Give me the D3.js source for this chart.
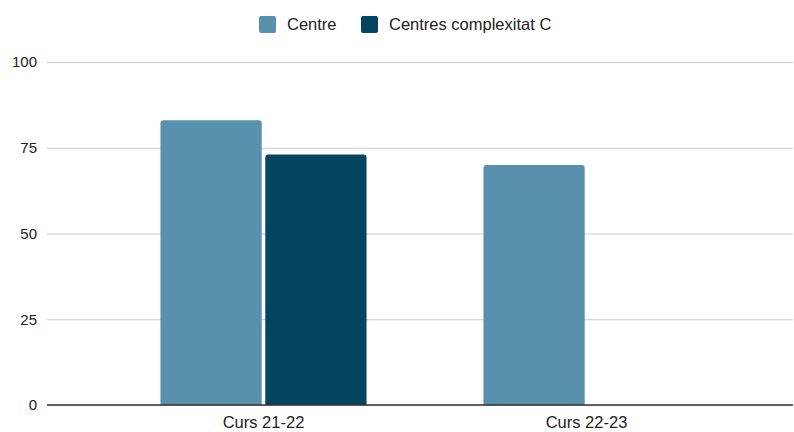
<!DOCTYPE html>
<html>
<head>
<meta charset="utf-8">
<script src="https://cdn.jsdelivr.net/npm/d3@7"></script>
<style>
  body { margin: 0; background: #fff; }
  text { font-family: "Liberation Sans", Arial, sans-serif; }
</style>
</head>
<body>
<script>
const w = 794;
const h = 432;

const categories = ["Curs 21-22", "Curs 22-23"];
const seriesNames = ["Centre", "Centres complexitat C"];
const centreValues = [83, 70];
const complexitatValues = [73, null];
const yTicks = [0, 25, 50, 75, 100];
const colors = ["#5891ad", "#034561"];

const seriesValues = [centreValues, complexitatValues];

const svg = d3.select("body")
    .append("svg")
    .attr("width", w)
    .attr("height", h);

const gridLeft = 47, gridRight = 793;

const x0 = d3.scaleBand()
    .domain(categories)
    .range([102, 748])
    .paddingInner(0.362)
    .paddingOuter(0.181);

const x1 = d3.scaleBand()
    .domain(seriesNames)
    .range([0, x0.bandwidth()])
    .paddingInner(0.034);

const y = d3.scaleLinear()
    .domain([0, 100])
    .range([405, 62]);

// gridlines + y labels
const yAxis = d3.axisLeft(y)
    .tickValues(yTicks)
    .tickSize(-(gridRight - gridLeft))
    .tickPadding(10);

const yg = svg.append("g")
    .attr("transform", "translate(" + gridLeft + ",0)")
    .call(yAxis);
yg.select(".domain").remove();
yg.selectAll(".tick line").attr("stroke", "#cccccc");
yg.selectAll(".tick text")
    .attr("fill", "#222")
    .style("font-size", "15px")
    .attr("x", -10);

// bars
function barPath(x, yTop, bw, yBot, r) {
    return "M" + x + "," + yBot +
        "V" + (yTop + r) +
        "Q" + x + "," + yTop + " " + (x + r) + "," + yTop +
        "H" + (x + bw - r) +
        "Q" + (x + bw) + "," + yTop + " " + (x + bw) + "," + (yTop + r) +
        "V" + yBot + "Z";
}

const bars = [];
categories.forEach((c, i) => {
    seriesNames.forEach((s, j) => {
        const v = seriesValues[j][i];
        if (v != null) bars.push({ cat: c, series: s, value: v, color: colors[j] });
    });
});

svg.append("g")
    .selectAll("path")
    .data(bars)
    .join("path")
    .attr("d", d => barPath(x0(d.cat) + x1(d.series), y(d.value), x1.bandwidth(), y(0), 3))
    .attr("fill", d => d.color);

// zero line
svg.append("line")
    .attr("x1", gridLeft)
    .attr("x2", gridRight)
    .attr("y1", y(0))
    .attr("y2", y(0))
    .attr("stroke", "#333")
    .attr("stroke-width", 1.3);

// x labels
const xAxis = d3.axisBottom(x0).tickSize(0).tickPadding(11);
const xg = svg.append("g")
    .attr("transform", "translate(0," + y(0) + ")")
    .call(xAxis);
xg.select(".domain").remove();
xg.selectAll(".tick text")
    .attr("fill", "#222")
    .style("font-size", "16.5px");

// legend
const legendX = [259, 361];
const legend = svg.append("g");
seriesNames.forEach((s, j) => {
    legend.append("rect")
        .attr("x", legendX[j])
        .attr("y", 16)
        .attr("width", 17)
        .attr("height", 17)
        .attr("rx", 2)
        .attr("fill", colors[j]);
    legend.append("text")
        .attr("x", legendX[j] + 28)
        .attr("y", 30)
        .attr("fill", "#222")
        .style("font-size", "16.5px")
        .text(s);
});
</script>
</body>
</html>
